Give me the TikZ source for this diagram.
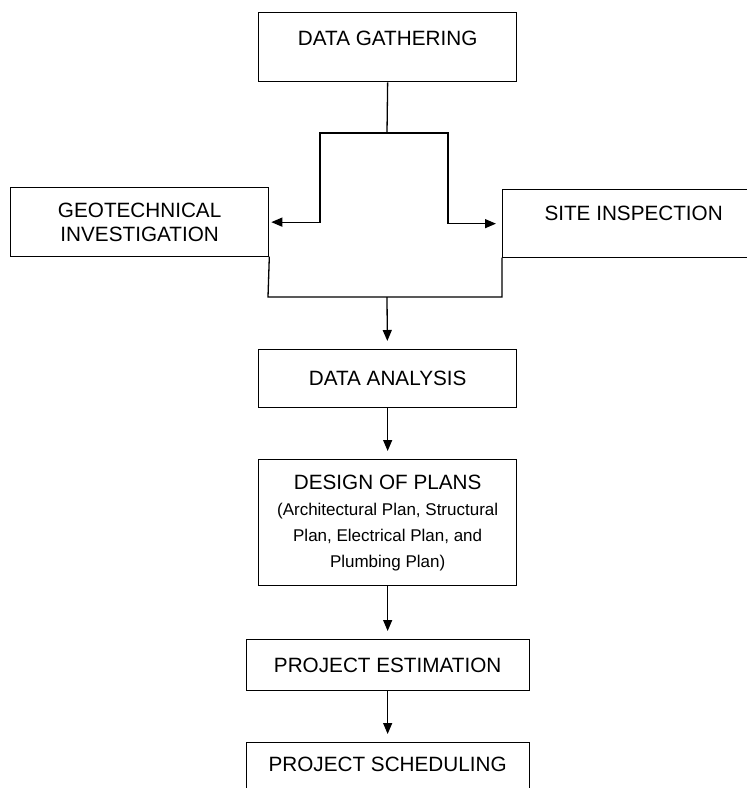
\documentclass[tikz,border=0pt]{standalone}
\usepackage{fontspec}
\setmainfont{Liberation Sans}
\usetikzlibrary{arrows.meta}
\newcommand{\plansfont}{\fontsize{17}{26}\selectfont}

\begin{document}
\begin{tikzpicture}
[-,line width=1.3pt,x=1pt,y=-1pt,%
  every node/.style={shape=rectangle,draw,line width=1.3pt,inner sep=0pt,
    align=center,anchor=north west,font=\fontsize{20.7}{24}\selectfont},%
  arr/.style={-{Triangle[length=11pt,width=9pt]}}]
\useasboundingbox (0,0) rectangle (747,788);
\node (gathering) at (258,12) [minimum width=258pt,text height=32.5pt,text depth=36.5pt] {DATA GATHERING};
%%
\node (geo) at (10,187) [minimum width=258pt,minimum height=69pt] {GEOTECHNICAL\\INVESTIGATION};
\node (site) at (502,189) [minimum width=262pt,text height=30.5pt,text depth=37.5pt] {SITE INSPECTION};
%%
\node (analysis) at (258,349) [minimum width=258pt,minimum height=58pt] {DATA ANALYSIS};
\node (design) at (258,459) [minimum width=258pt,minimum height=126pt,font=\fontsize{20.7}{26}\selectfont]
  {DESIGN OF PLANS\\{\plansfont (Architectural Plan, Structural}\\{\plansfont Plan, Electrical Plan, and}\\{\plansfont Plumbing Plan)}};
\node (estimation) at (245.5,639) [minimum width=283pt,minimum height=51pt] {PROJECT ESTIMATION};
\node (scheduling) at (245.5,742) [minimum width=283pt,text height=28.5pt,text depth=40pt] {PROJECT SCHEDULING};
%%
\coordinate (fork) at (387,133);
\coordinate (forkL) at (320,133);
\coordinate (forkR) at (448,133);
\coordinate (mergeL) at (268,297);
\coordinate (mergeR) at (502,297);
\coordinate (merge) at (387,297);
%%
\draw (gathering.south) -- (fork);
\draw[arr,shorten >=2pt] (fork) -- (forkL) |- (geo.east);
\draw[arr,shorten >=6pt] (fork) -- (forkR) |- (site.west);
\draw[line cap=rect] (geo.south east) -- (mergeL) -- (mergeR) -- (site.south west);
\path
\foreach \startNode/\endNode in {merge/analysis, analysis/design, design/estimation, estimation/scheduling}
{
  (\startNode) edge[arr,shorten >=8pt] (\endNode)
};
\end{tikzpicture}
\end{document}
